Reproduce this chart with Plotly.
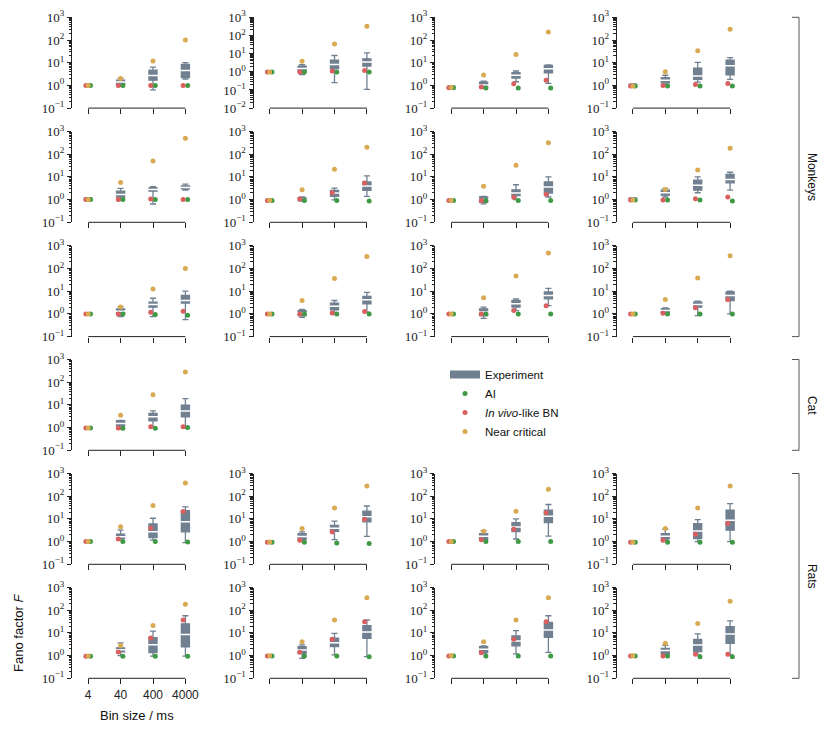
import plotly.graph_objects as go

# bin sizes (x categories)
BINS = ["4", "40", "400", "4000"]

# panel groups (12 monkey recordings, 1 cat, 8 rats)
GROUPS = ["Monkeys", "Cat", "Rats"]
GROUP_ROWS = [[0, 1, 2], [3], [4, 5]]

# experiment box stats per panel, one row per panel, columns = bins
Q1 = [
    [0.95, 1.1, 1.7, 2.2], [0.95, 1.09, 1.5, 2.05], [0.8, 0.79, 2.1, 3.6], [0.9, 1.3, 1.85, 2.9],
    [0.95, 1.3, 2.35, 3.0], [0.88, 0.9, 1.38, 2.55], [0.88, 0.75, 1.5, 1.95], [0.95, 1.56, 2.6, 5.5],
    [0.95, 1.07, 1.97, 3.0], [0.95, 0.84, 1.5, 2.8], [0.95, 0.84, 2.0, 4.6], [0.95, 1.18, 1.98, 3.9],
    [0.95, 1.18, 2.0, 3.0],
    [0.95, 1.38, 1.5, 2.7], [0.95, 1.22, 2.86, 7.4], [0.95, 1.22, 2.76, 6.9], [0.95, 1.36, 1.36, 3.2],
    [0.95, 1.45, 1.35, 2.4], [0.95, 1.27, 2.5, 5.8], [0.95, 1.35, 2.66, 6.4], [0.95, 1.18, 1.5, 3.5],
]
MED = [
    [1.0, 1.4, 2.7, 4.5], [1.0, 1.5, 2.5, 3.5], [0.85, 1.03, 2.8, 5.4], [1.0, 1.67, 2.6, 7.3],
    [1.05, 1.67, 2.8, 3.4], [0.93, 1.02, 1.95, 4.0], [0.93, 1.0, 1.95, 3.6], [1.02, 2.0, 4.3, 7.7],
    [1.0, 1.3, 2.6, 3.9], [1.0, 1.1, 2.2, 4.2], [1.0, 1.2, 2.8, 6.5], [1.0, 1.4, 2.6, 6.5],
    [1.0, 1.5, 3.0, 5.4],
    [1.0, 1.65, 2.7, 7.4], [1.0, 1.66, 3.9, 12.3], [1.0, 1.7, 4.4, 13], [1.0, 1.72, 2.95, 8.7],
    [1.0, 1.8, 3.0, 8.5], [1.0, 1.77, 3.7, 11], [1.0, 1.9, 4.4, 13.5], [1.0, 1.66, 2.95, 9],
]
Q3 = [
    [1.05, 1.7, 4.7, 8.5], [1.05, 2.05, 4.4, 5.2], [0.9, 1.4, 3.6, 7.6], [1.1, 2.2, 5.8, 13],
    [1.15, 2.35, 3.3, 4.0], [0.98, 1.2, 2.55, 6.0], [0.98, 1.3, 2.7, 6.0], [1.15, 2.6, 7.2, 13],
    [1.05, 1.67, 3.3, 6.5], [1.05, 1.4, 3.0, 5.9], [1.05, 1.67, 3.9, 9.2], [1.05, 1.67, 3.3, 9.2],
    [1.05, 2.0, 4.2, 9.8],
    [1.05, 2.15, 6.0, 23], [1.05, 2.25, 5.2, 22], [1.05, 2.25, 6.9, 24], [1.05, 2.25, 6.2, 24],
    [1.05, 2.2, 6.1, 25], [1.05, 2.5, 5.8, 21], [1.05, 2.5, 7.3, 29], [1.05, 2.1, 5.2, 19],
]
LO = [
    [0.9, 0.9, 0.64, 1.9], [0.9, 0.71, 0.25, 0.107], [0.75, 0.75, 1.45, 1.22], [0.85, 1.1, 1.4, 1.85],
    [0.9, 0.93, 0.64, 2.6], [0.85, 0.85, 0.98, 1.38], [0.85, 0.65, 1.0, 1.3], [0.9, 1.3, 2.0, 2.6],
    [0.9, 0.76, 0.76, 0.56], [0.9, 0.71, 1.0, 1.2], [0.9, 0.64, 1.4, 2.3], [0.9, 1.0, 0.84, 1.0],
    [0.9, 0.84, 1.0, 0.95],
    [0.9, 1.17, 1.17, 0.9], [0.9, 1.14, 1.22, 1.7], [0.9, 1.14, 1.3, 1.75], [0.9, 1.2, 1.0, 1.0],
    [0.9, 1.0, 0.94, 0.94], [0.9, 0.76, 1.07, 0.9], [0.9, 1.27, 1.18, 1.4], [0.9, 1.07, 1.07, 1.07],
]
HI = [
    [1.1, 2.1, 6.4, 10], [1.1, 2.5, 7.9, 11], [0.95, 1.55, 4.3, 8.1], [1.15, 2.8, 10.3, 16.7],
    [1.2, 3.1, 3.7, 4.8], [1.02, 1.3, 3.2, 11], [1.02, 1.4, 4.5, 10], [1.2, 3.1, 10, 16],
    [1.1, 2.1, 4.9, 10], [1.1, 1.56, 3.9, 8.9], [1.1, 2.0, 4.6, 13.4], [1.1, 1.85, 3.65, 10],
    [1.1, 2.1, 5.5, 19],
    [1.1, 3.2, 10.7, 34], [1.1, 2.67, 7.9, 37], [1.1, 2.95, 10, 43], [1.1, 3.5, 9.3, 47],
    [1.1, 3.6, 11.9, 57], [1.1, 2.95, 9.6, 37], [1.1, 2.66, 12.5, 57], [1.1, 2.85, 9, 34],
]

# model predictions
AI = [
    [1, 1, 1, 1], [0.96, 0.96, 0.96, 0.96], [0.78, 0.76, 0.76, 0.76], [0.93, 0.93, 0.93, 0.93],
    [1, 1, 1, 1], [0.92, 0.92, 0.92, 0.86], [0.92, 0.92, 0.92, 0.92], [0.95, 0.95, 0.95, 0.87],
    [1, 1, 0.93, 0.87], [1, 1, 1, 1], [1, 1, 1, 1], [1, 1, 1, 1],
    [0.95, 0.93, 0.93, 1.0],
    [1, 1, 1, 0.95], [0.94, 0.94, 0.87, 0.82], [1, 1, 1, 1], [0.94, 0.94, 0.94, 0.94],
    [0.94, 0.94, 0.94, 0.94], [0.97, 0.97, 0.97, 0.9], [0.97, 0.97, 0.97, 0.97], [0.97, 0.97, 0.9, 0.9],
]
BN = [
    [1, 1, 1, 1], [0.96, 0.96, 1.09, 1.18], [0.78, 0.84, 1.18, 1.7], [0.93, 1.0, 1.1, 1.2],
    [1, 1, 1.07, 1], [0.92, 1.05, 2.0, 5.4], [0.92, 0.92, 1.28, 1.7], [0.95, 0.95, 1.1, 1.3],
    [1, 1, 1.18, 1.3], [1, 1, 1.1, 1.27], [1, 1, 1.4, 2.3], [1, 1.07, 1.85, 4.3],
    [0.95, 0.95, 1.1, 1.1],
    [1, 1.3, 4.0, 21], [0.94, 1.14, 2.67, 9.6], [1, 1.2, 3.5, 18.5], [0.94, 1.14, 2.1, 6.4],
    [0.94, 1.45, 5.9, 37], [0.97, 1.4, 5.2, 31], [0.97, 1.35, 5.2, 31], [0.97, 0.97, 1.14, 1.14],
]
NC = [
    [1, 2.0, 12, 100], [0.98, 3.85, 34, 320], [0.8, 2.9, 23, 225], [0.95, 4.0, 34, 300],
    [1, 5.7, 50, 500], [0.94, 2.7, 22, 200], [0.94, 3.9, 33, 320], [0.97, 2.8, 20, 185],
    [1, 2.0, 12.4, 100], [1, 3.9, 36, 340], [1, 5.1, 47, 480], [1, 4.3, 38, 360],
    [0.97, 3.5, 28, 280],
    [1, 4.5, 39, 380], [0.96, 3.74, 30, 285], [1, 2.86, 21.7, 200], [0.96, 3.74, 30, 285],
    [0.96, 2.8, 21, 185], [0.99, 4.1, 37, 350], [0.99, 4.1, 37, 350], [0.99, 3.5, 26, 250],
]

# lowest decade shown on each panel's y axis
Y_LOW = [-1, -2] + [-1] * 19

# ---- layout / style ----
W, H = 831, 734
COL_LEFT = [72, 253.5, 435, 616.7]
PANEL_W = 129.6
ROW_TOP = [17.3, 131.5, 245.8, 359.5, 473.5, 587.5]
PANEL_H = 90.8
PANELS = [(r, c) for r in range(3) for c in range(4)] + [(3, 0)] + \
         [(r, c) for r in (4, 5) for c in range(4)]

BOX_COLOR = "#708090"
SERIES = [
    ("AI", AI, "#3f9a45", 0.07),
    ("<i>In vivo</i>-like BN", BN, "#d9605f", -0.07),
    ("Near critical", NC, "#d9aa52", 0.0),
]
AXIS_COLOR = "#222222"
SERIF = "Liberation Serif"
SANS = "Liberation Sans"


def px_x(x):
    return x / W


def px_y(y):
    return 1 - y / H


fig = go.Figure()
xs = list(range(len(BINS)))
layout_axes = {}
shapes = []

for p, (r, c) in enumerate(PANELS):
    k = "" if p == 0 else str(p + 1)
    xa, ya = "x" + k, "y" + k

    fig.add_trace(go.Box(
        x=xs, q1=Q1[p], median=MED[p], q3=Q3[p], lowerfence=LO[p], upperfence=HI[p],
        width=0.25, fillcolor=BOX_COLOR, line=dict(color=BOX_COLOR, width=1.3),
        whiskerwidth=0.75, boxpoints=False, showlegend=False, hoverinfo="skip",
        xaxis=xa, yaxis=ya))
    # white median line
    fig.add_trace(go.Scatter(
        x=xs, y=MED[p], mode="markers", showlegend=False, hoverinfo="skip",
        marker=dict(symbol="line-ew", size=8, line=dict(color="white", width=1.5)),
        xaxis=xa, yaxis=ya))
    for name, vals, color, off in SERIES:
        fig.add_trace(go.Scatter(
            x=[i + off for i in xs], y=vals[p], mode="markers", name=name,
            marker=dict(color=color, size=5, line=dict(width=0)),
            showlegend=(p == 0), xaxis=xa, yaxis=ya))

    x0 = COL_LEFT[c]
    y0 = ROW_TOP[r]
    bottom_left = (r == 5 and c == 0)
    layout_axes["xaxis" + k] = dict(
        domain=[px_x(x0), px_x(x0 + PANEL_W)], anchor=ya, automargin=False,
        range=[-0.5, len(BINS) - 0.5], tickmode="array", tickvals=xs, ticktext=BINS,
        showticklabels=bottom_left, ticks="outside", ticklen=5, tickwidth=1,
        tickcolor=AXIS_COLOR, showline=False, showgrid=False, zeroline=False,
        tickfont=dict(family=SANS, size=12, color="#222"))
    decades = list(range(Y_LOW[p], 4))
    layout_axes["yaxis" + k] = dict(
        domain=[px_y(y0 + PANEL_H), px_y(y0)], anchor=xa, type="log", automargin=False,
        range=[Y_LOW[p], 3], tickmode="array",
        tickvals=[10.0 ** d for d in decades],
        ticktext=["10<sup>%s</sup>" % (str(d).replace("-", "\u2212")) for d in decades],
        ticks="outside", ticklen=4, tickwidth=1, tickcolor=AXIS_COLOR,
        minor=dict(ticks="outside", ticklen=2.5, tickwidth=0.8, tickcolor=AXIS_COLOR,
                   dtick="D1", showgrid=False),
        showline=True, linecolor=AXIS_COLOR, linewidth=1, mirror=False,
        showgrid=False, zeroline=False,
        tickfont=dict(family=SERIF, size=13, color="#222"))
    # x axis line spanning first to last bin only
    shapes.append(dict(type="line", xref=xa, yref=ya + " domain",
                       x0=xs[0], x1=xs[-1], y0=0, y1=0,
                       line=dict(color=AXIS_COLOR, width=1)))

# legend proxy for the experiment boxes
fig.add_trace(go.Scatter(x=[None], y=[None], mode="lines", name="Experiment",
                         line=dict(color=BOX_COLOR, width=8), legendrank=1))

# group brackets on the right
annotations = []
bx = 799
for g, rows in zip(GROUPS, GROUP_ROWS):
    top = ROW_TOP[rows[0]]
    bot = ROW_TOP[rows[-1]] + PANEL_H
    for yy0, yy1, xx0, xx1 in [(top, bot, bx, bx), (top, top, bx - 7, bx), (bot, bot, bx - 7, bx)]:
        shapes.append(dict(type="line", xref="paper", yref="paper",
                           x0=px_x(xx0), x1=px_x(xx1), y0=px_y(yy0), y1=px_y(yy1),
                           line=dict(color="#555555", width=1)))
    annotations.append(dict(text=g, xref="paper", yref="paper", x=px_x(812),
                            y=px_y((top + bot) / 2), xanchor="center", yanchor="middle",
                            showarrow=False, textangle=90,
                            font=dict(family=SANS, size=12, color="#111")))

annotations.append(dict(text="Fano factor <i>F</i>", xref="paper", yref="paper",
                        x=px_x(19), y=px_y(ROW_TOP[5] + PANEL_H / 2),
                        xanchor="center", yanchor="middle", showarrow=False,
                        textangle=-90, font=dict(family=SANS, size=13, color="#111")))
annotations.append(dict(text="Bin size / ms", xref="paper", yref="paper",
                        x=px_x(COL_LEFT[0] + PANEL_W / 2), y=px_y(715),
                        xanchor="center", yanchor="middle", showarrow=False,
                        font=dict(family=SANS, size=13, color="#111")))

fig.update_layout(
    width=W, height=H, margin=dict(l=0, r=0, t=0, b=0),
    plot_bgcolor="white", paper_bgcolor="white",
    shapes=shapes, annotations=annotations,
    legend=dict(x=px_x(445), y=px_y(403), xanchor="left", yanchor="middle",
                font=dict(family=SANS, size=11.5, color="#111"),
                bgcolor="rgba(0,0,0,0)", traceorder="normal"),
    **layout_axes)

# drop the default page margin so the figure sits at the window's corner
fig.write_html("out.html", config={"displayModeBar": False},
               post_script="document.body.style.margin = '0px';")
